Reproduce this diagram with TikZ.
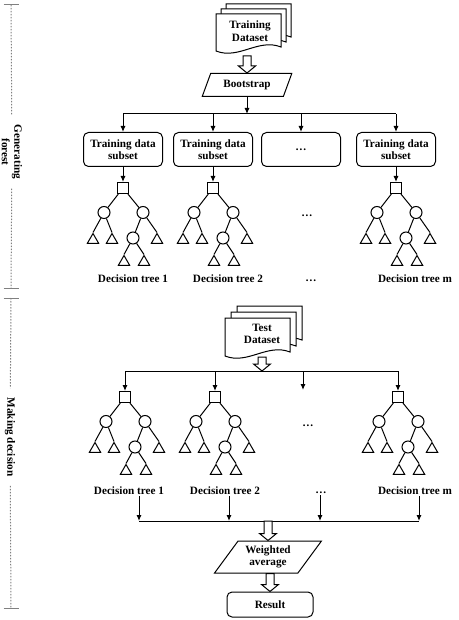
\documentclass[tikz,border=0pt]{standalone}
\usepackage{fontspec}
\setmainfont{Liberation Serif}
\usetikzlibrary{shapes.geometric,arrows.meta,calc}

% stacked page with a wavy bottom: x, y of top left, width, height
\newcommand{\docpage}[4]{%
  \draw[fill=white] (#1,#2) -- ++(#3,0) -- ++(0,#4-4)
    .. controls +(-0.35*#3,-9) and +(0.35*#3,9) .. (#1,#2+#4) -- cycle;}

% hollow arrow pointing down from #1 to #2
\newcommand{\fatarrow}[2]{%
  \path (#1) coordinate (fa-s) (#2) coordinate (fa-e);
  \draw[fill=white] ($(fa-e |- fa-s)+(-4,0)$) -- ($(fa-e)+(-4,-7)$) -- ($(fa-e)+(-8.5,-7)$)
    -- (fa-e) -- ($(fa-e)+(8.5,-7)$) -- ($(fa-e)+(4,-7)$) -- ($(fa-e |- fa-s)+(4,0)$) -- cycle;}

\begin{document}
\begin{tikzpicture}[x=1pt, y=-1pt, line width=1pt,
            font=\fontsize{11.2}{12.5}\selectfont\bfseries,
            box/.style = {draw, rounded corners=5pt, align=center, inner sep=1pt,
                          minimum width=79pt, minimum height=34pt},
            para/.style = {draw, trapezium, trapezium stretches=true, align=center, inner sep=1pt},
            docu/.style = {align=center, inner sep=0pt, minimum width=65pt, minimum height=37pt},
            root/.style = {draw, rectangle, inner sep=0pt, minimum size=11pt},
            split/.style = {draw, circle, inner sep=0pt, minimum size=12pt},
            leaf/.style = {draw, regular polygon, regular polygon sides=3, inner sep=0pt, minimum size=13pt},
            lab/.style = {inner sep=1pt},
            side/.style = {rotate=-90, align=center, inner sep=9pt},
            brk/.style = {draw, gray, dash pattern=on 1.5pt off 1.5pt},
            arr/.style = {draw, -{Latex[length=6pt,width=5pt]}},
        ]
        \useasboundingbox (0,0) rectangle (458,620);

        % side brackets
        \coordinate (g-top) at (11,5);
        \coordinate (g-bot) at (11,288);
        \coordinate (m-top) at (11,298);
        \coordinate (m-bot) at (11,608);
        \node (gen) [side] at (12,152) {Generating\\forest};
        \node (mak) [side] at (10,437) {Making decision};
        \path[brk] (g-top) -- (gen);
        \path[brk] (gen) -- (g-bot);
        \path[brk] (m-top) -- (mak);
        \path[brk] (mak) -- (m-bot);
        \draw[gray] ([xshift=-7.5pt]g-top) -- ([xshift=7.5pt]g-top);
        \draw[gray] ([xshift=-7.5pt]g-bot) -- ([xshift=7.5pt]g-bot);
        \draw[gray] ([xshift=-7.5pt]m-top) -- ([xshift=7.5pt]m-top);
        \draw[gray] ([xshift=-7.5pt]m-bot) -- ([xshift=7.5pt]m-bot);

        % generating forest
        \docpage{226}{4}{65}{37}
        \docpage{221}{9}{65}{37}
        \docpage{216}{14}{65}{37}
        \node (train) [docu] at (250,31) {Training\\Dataset};
        \node (boot) [para, trapezium left angle=64, trapezium right angle=116,
                      minimum width=90pt, minimum height=23pt] at (247,85) {Bootstrap};
        \fatarrow{[yshift=-6pt]train.south}{boot.north}

        \coordinate (bus1) at (247,114);
        \coordinate (bus1-l) at (123,114);
        \coordinate (bus1-r) at (396,114);
        \node (box1) [box] at (123,149.5) {Training data\\subset};
        \node (box2) [box] at (213,149.5) {Training data\\subset};
        \node (box3) [box] at (301,149.5) {\ldots};
        \node (boxm) [box] at (396,149.5) {Training data\\subset};
        \path[arr] (boot) -- (bus1);
        \draw (bus1-l) -- (bus1-r);
        \path[arr] (bus1-l) -- (box1);
        \path[arr] (bus1 -| box2) -- (box2);
        \path[arr] (bus1 -| box3) -- (box3);
        \path[arr] (bus1-r) -- (boxm);

        % the trees
        \foreach \n/\x/\y in {t1/123/188, t2/213/188, tm/396/188, s1/125/397, s2/215/397, sm/398/397}{
            \node (\n-r) [root] at (\x,\y) {};
            \node (\n-a) [split] at (\x-19,\y+24.5) {};
            \node (\n-b) [split] at (\x+20,\y+24.5) {};
            \node (\n-c) [split] at (\x+10,\y+50) {};
            \node (\n-1) [leaf] at (\x-30,\y+52) {};
            \node (\n-2) [leaf] at (\x-11,\y+52) {};
            \node (\n-3) [leaf] at (\x+34,\y+52) {};
            \node (\n-4) [leaf] at (\x+1,\y+74) {};
            \node (\n-5) [leaf] at (\x+21,\y+74) {};
            \draw (\n-r) -- (\n-a) (\n-r) -- (\n-b)
                  (\n-a) -- (\n-1.north) (\n-a) -- (\n-2.north)
                  (\n-b) -- (\n-c) (\n-b) -- (\n-3.north)
                  (\n-c) -- (\n-4.north) (\n-c) -- (\n-5.north);
        }
        \path[arr] (box1) -- (t1-r);
        \path[arr] (box2) -- (t2-r);
        \path[arr] (boxm) -- (tm-r);
        \node (t3-dots) [lab] at (307,216) {\ldots};
        \node (t1-lab) [lab] at (133,279) {Decision tree 1};
        \node (t2-lab) [lab] at (228,279) {Decision tree 2};
        \node (t3-lab) [lab] at (311,281) {\ldots};
        \node (tm-lab) [lab] at (415,279) {Decision tree m};

        % making decision
        \docpage{237}{306}{65}{38}
        \docpage{231}{312}{65}{38}
        \docpage{225}{318}{65}{38}
        \node (test) [docu] at (262,334) {Test\\Dataset};
        \coordinate (bus2) at (262,371);
        \coordinate (bus2-l) at (125,371);
        \coordinate (bus2-r) at (398,371);
        \coordinate (s3-top) at (303,390);
        \fatarrow{[yshift=-4pt]test.south}{bus2}
        \draw (bus2-l) -- (bus2-r);
        \path[arr] (bus2-l) -- (s1-r);
        \path[arr] (bus2 -| s2-r) -- (s2-r);
        \path[arr] (bus2 -| s3-top) -- (s3-top);
        \path[arr] (bus2-r) -- (sm-r);
        \node (s3-dots) [lab] at (308,426) {\ldots};
        \node (s1-lab) [lab] at (129,491) {Decision tree 1};
        \node (s2-lab) [lab] at (225,491) {Decision tree 2};
        \node (s3-lab) [lab] at (321,493) {\ldots};
        \node (sm-lab) [lab] at (415,491) {Decision tree m};

        \coordinate (j1) at (139,521);
        \coordinate (j2) at (229,521);
        \coordinate (j3) at (320,521);
        \coordinate (j4) at (419,521);
        \coordinate (bus3) at (269,521);
        \path[arr] (s1-lab.south -| j1) -- (j1);
        \path[arr] (s2-lab.south -| j2) -- (j2);
        \path[arr] (s3-lab.south -| j3) -- (j3);
        \path[arr] (sm-lab.south -| j4) -- (j4);
        \draw (j1) -- (j4);

        \node (wavg) [para, trapezium left angle=53, trapezium right angle=127,
                      minimum width=107pt, minimum height=32pt] at (268,557) {Weighted\\average};
        \node (res) [box, minimum width=86pt, minimum height=25pt] at (270,604.5) {Result};
        \fatarrow{bus3}{wavg.north}
        \fatarrow{wavg.south}{res.north}
    \end{tikzpicture}
\end{document}
